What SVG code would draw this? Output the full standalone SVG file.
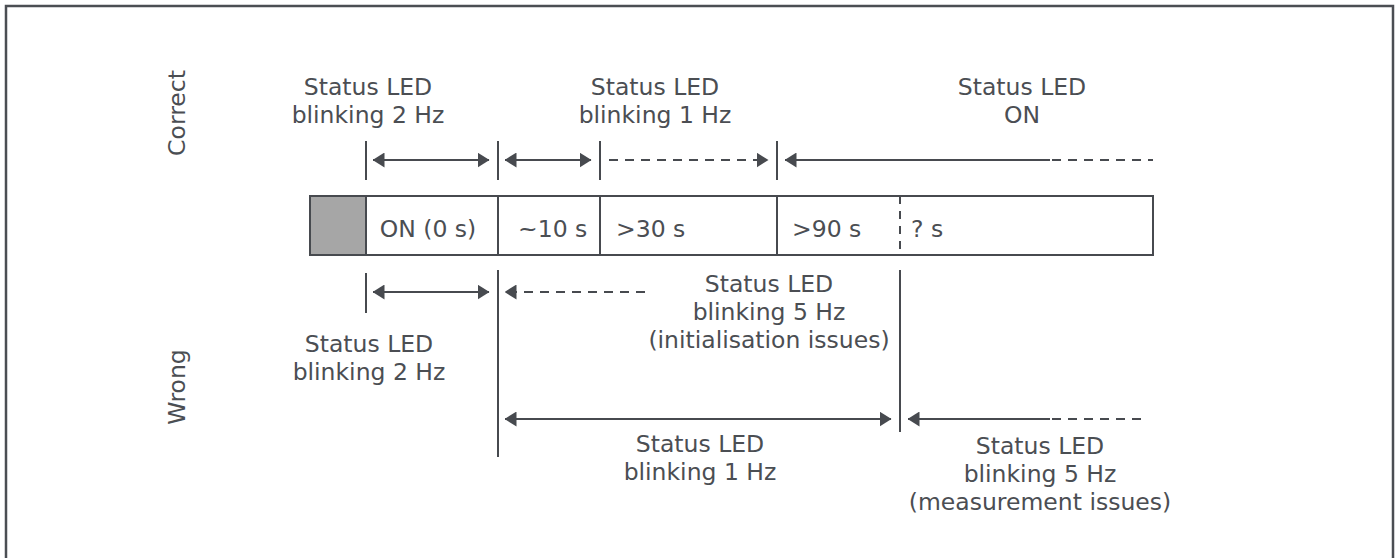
<svg xmlns="http://www.w3.org/2000/svg" width="1399" height="558" viewBox="0 0 1399 558">
<style>
.t{font-family:"DejaVu Sans","Liberation Sans",sans-serif;font-size:23.5px;fill:#4b4e53}
.m{text-anchor:middle}
.ln{stroke:#474a4f;stroke-width:2;fill:none}
.d{stroke-dasharray:9 7}
.dv{stroke-dasharray:8 7}
</style>
<defs>
<marker id="ah" viewBox="0 0 12 15" refX="11.5" refY="7.5" markerWidth="12" markerHeight="15" markerUnits="userSpaceOnUse" orient="auto-start-reverse">
<path d="M0,0 L12,7.5 L0,15 z" fill="#474a4f"/>
</marker>
</defs>
<rect x="6" y="6" width="1387" height="570" fill="#fff" stroke="#4b4e53" stroke-width="2.5"/>
<g id="row-labels">
<text class="t m" transform="translate(185,113) rotate(-90)">Correct</text>
<text class="t m" transform="translate(185,387) rotate(-90)">Wrong</text>
</g>
<g id="timeline">
<rect x="310" y="196" width="56" height="59" fill="#a6a6a6"/>
<rect x="310" y="196" width="843" height="59" class="ln"/>
<line x1="366" y1="196" x2="366" y2="255" class="ln"/>
<line x1="498" y1="196" x2="498" y2="255" class="ln"/>
<line x1="600" y1="196" x2="600" y2="255" class="ln"/>
<line x1="777" y1="196" x2="777" y2="255" class="ln"/>
<line x1="900" y1="196" x2="900" y2="255" class="ln dv"/>
<text class="t m" x="428" y="237">ON (0 s)</text>
<text class="t" x="518" y="237">~10 s</text>
<text class="t" x="616" y="237">&gt;30 s</text>
<text class="t" x="792" y="237">&gt;90 s</text>
<text class="t" x="911" y="237">? s</text>
</g>
<g id="correct-2hz">
<text class="t m" x="368" y="95">Status LED</text>
<text class="t m" x="368" y="123">blinking 2 Hz</text>
</g>
<g id="correct-1hz">
<text class="t m" x="655" y="95">Status LED</text>
<text class="t m" x="655" y="123">blinking 1 Hz</text>
</g>
<g id="correct-on">
<text class="t m" x="1022" y="95">Status LED</text>
<text class="t m" x="1022" y="123">ON</text>
</g>
<g id="wrong-2hz">
<text class="t m" x="369" y="352">Status LED</text>
<text class="t m" x="369" y="380">blinking 2 Hz</text>
</g>
<g id="wrong-init">
<text class="t m" x="769" y="292">Status LED</text>
<text class="t m" x="769" y="320">blinking 5 Hz</text>
<text class="t m" x="769" y="348">(initialisation issues)</text>
</g>
<g id="wrong-1hz">
<text class="t m" x="700" y="452">Status LED</text>
<text class="t m" x="700" y="480">blinking 1 Hz</text>
</g>
<g id="wrong-meas">
<text class="t m" x="1040" y="454">Status LED</text>
<text class="t m" x="1040" y="482">blinking 5 Hz</text>
<text class="t m" x="1040" y="510">(measurement issues)</text>
</g>
<g id="connectors">
<line x1="366" y1="141" x2="366" y2="180" class="ln"/>
<line x1="498" y1="141" x2="498" y2="180" class="ln"/>
<line x1="600" y1="141" x2="600" y2="180" class="ln"/>
<line x1="777" y1="141" x2="777" y2="180" class="ln"/>
<line x1="373" y1="160" x2="489" y2="160" class="ln" marker-start="url(#ah)" marker-end="url(#ah)"/>
<line x1="505" y1="160" x2="591" y2="160" class="ln" marker-start="url(#ah)" marker-end="url(#ah)"/>
<line x1="609" y1="160" x2="768" y2="160" class="ln d" marker-end="url(#ah)"/>
<line x1="1050" y1="160" x2="785" y2="160" class="ln" marker-end="url(#ah)"/>
<line x1="1052" y1="160" x2="1153" y2="160" class="ln d"/>
<line x1="366" y1="273" x2="366" y2="313" class="ln"/>
<line x1="498" y1="270" x2="498" y2="457" class="ln"/>
<line x1="900" y1="270" x2="900" y2="432" class="ln"/>
<line x1="373" y1="292" x2="489" y2="292" class="ln" marker-start="url(#ah)" marker-end="url(#ah)"/>
<line x1="645" y1="292" x2="505" y2="292" class="ln d" marker-end="url(#ah)"/>
<line x1="505" y1="419" x2="891" y2="419" class="ln" marker-start="url(#ah)" marker-end="url(#ah)"/>
<line x1="1050" y1="419" x2="908" y2="419" class="ln" marker-end="url(#ah)"/>
<line x1="1052" y1="419" x2="1142" y2="419" class="ln d"/>
</g>
</svg>
